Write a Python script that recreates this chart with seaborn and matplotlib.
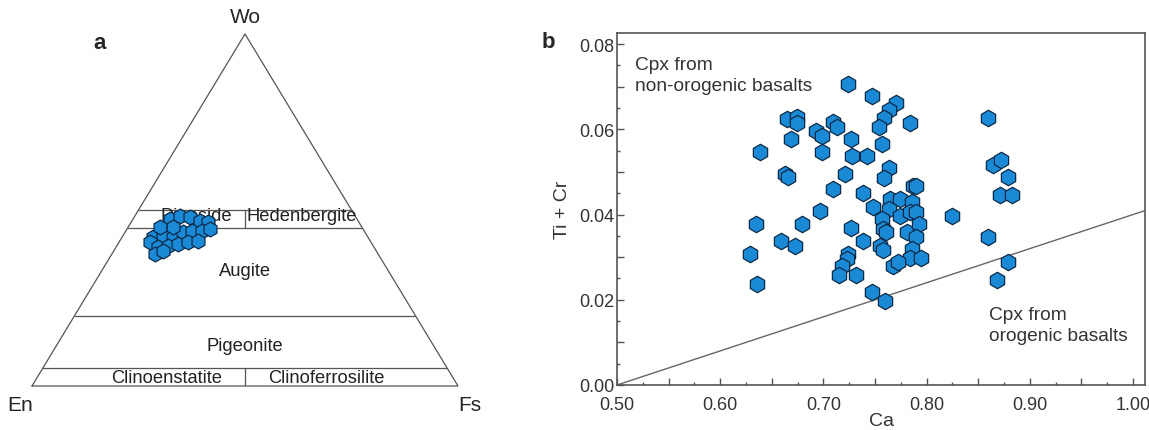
import numpy as np
import pandas as pd
import matplotlib
matplotlib.use("Agg")
import matplotlib.pyplot as plt
import seaborn as sns
from matplotlib.ticker import FixedLocator, FuncFormatter, MultipleLocator

# ---- data -------------------------------------------------------------
# panel a: pyroxene compositions (mol %)
wo = [47.4, 48.3, 48.0, 46.9, 46.6, 42.3, 42.6, 42.3, 43.8, 44.0, 44.0,
      40.9, 39.5, 39.8, 40.3, 40.9, 41.2, 37.5, 38.4, 45.2, 45.2, 44.6]
fs = [8.7, 10.6, 13.1, 16.0, 18.0, 7.3, 9.5, 12.0, 13.5, 15.6, 17.9,
      7.2, 9.9, 12.0, 14.2, 16.2, 18.4, 10.1, 11.6, 10.5, 7.4, 19.5]
en = [43.9, 41.1, 38.9, 37.1, 35.4, 50.4, 47.9, 45.7, 42.7, 40.4, 38.1,
      51.9, 50.6, 48.2, 45.5, 42.9, 40.4, 52.4, 50.0, 44.3, 47.4, 35.9]

# field boundaries (Wo %) and labels
wo_lines = [5, 20, 45, 50]
field_names = ['Diopside', 'Hedenbergite', 'Augite', 'Pigeonite',
               'Clinoenstatite', 'Clinoferrosilite']
field_wo = [48.3, 48.3, 32.7, 11.4, 2.3, 2.3]
field_fs = [14.5, 39.2, 33.7, 44.3, 30.5, 67.9]

# panel b: Ca vs Ti + Cr (apfu)
ca = [0.724, 0.747, 0.770, 0.764, 0.759, 0.754, 0.784, 0.665, 0.674, 0.674,
      0.709, 0.713, 0.693, 0.699, 0.669, 0.727, 0.757, 0.699, 0.639, 0.728,
      0.742, 0.663, 0.666, 0.721, 0.764, 0.759, 0.709, 0.738, 0.787, 0.790,
      0.765, 0.774, 0.786, 0.748, 0.697, 0.764, 0.774, 0.784, 0.790, 0.825,
      0.757, 0.758, 0.761, 0.635, 0.679, 0.727, 0.781, 0.793, 0.790, 0.659,
      0.672, 0.738, 0.755, 0.758, 0.629, 0.724, 0.723, 0.786, 0.784, 0.795,
      0.718, 0.715, 0.732, 0.767, 0.772, 0.636, 0.747, 0.760, 0.859, 0.864,
      0.872, 0.879, 0.871, 0.883, 0.859, 0.879, 0.868]
ti_cr = [0.0707, 0.0678, 0.0662, 0.0646, 0.0627, 0.0606, 0.0615, 0.0624, 0.0629, 0.0615,
         0.0617, 0.0606, 0.0596, 0.0585, 0.0577, 0.0577, 0.0566, 0.0547, 0.0547, 0.0538,
         0.0538, 0.0495, 0.0488, 0.0495, 0.0509, 0.0486, 0.0460, 0.0451, 0.0467, 0.0467,
         0.0437, 0.0437, 0.0430, 0.0418, 0.0408, 0.0413, 0.0397, 0.0406, 0.0406, 0.0397,
         0.0390, 0.0366, 0.0359, 0.0378, 0.0378, 0.0369, 0.0359, 0.0378, 0.0347, 0.0338,
         0.0326, 0.0338, 0.0326, 0.0317, 0.0308, 0.0308, 0.0296, 0.0319, 0.0298, 0.0298,
         0.0279, 0.0258, 0.0258, 0.0279, 0.0289, 0.0237, 0.0218, 0.0197, 0.0627, 0.0516,
         0.0528, 0.0488, 0.0446, 0.0446, 0.0347, 0.0289, 0.0246]

# discriminant line (orogenic / non-orogenic)
line_ca = [0.50, 1.02]
line_ticr = [0.0, 0.0416]

# ---- style ------------------------------------------------------------
sns.set_theme(style='white')
plt.rcParams['font.family'] = ['Liberation Sans', 'DejaVu Sans']
fill_col = '#1b8ad6'
edge_col = '#0c2a48'
grey = '#555555'

fig = plt.figure(figsize=(11.49, 4.31), dpi=100)

# ---- panel a: ternary --------------------------------------------------
ax_a = fig.add_axes([32 / 1149, 44 / 431, 426 / 1149, 352 / 431])
ax_a.set_xlim(0, 1)
ax_a.set_ylim(0, 1)
ax_a.axis('off')

def tern(w, f):
    w = np.asarray(w) / 100.0
    f = np.asarray(f) / 100.0
    return f + w / 2, w

# outline
tx, ty = tern([0, 0, 100, 0], [0, 100, 0, 0])
ax_a.plot(tx, ty, color=grey, lw=0.9, clip_on=False)
for w in wo_lines:
    lx, ly = tern([w, w], [0, 100 - w])
    ax_a.plot(lx, ly, color=grey, lw=0.9)
# En/Fs dividers in the Cpx bands
for w0, w1 in [(0, 5), (45, 50)]:
    dx, dy = tern([w0, w1], [(100 - w0) / 2, (100 - w1) / 2])
    ax_a.plot(dx, dy, color=grey, lw=0.9)

for name, w, f in zip(field_names, field_wo, field_fs):
    px, py = tern(w, f)
    ax_a.text(px, py, name, ha='center', va='center', fontsize=13.2, color='#222222')

ax_a.text(0.5, 1.05, 'Wo', ha='center', va='center', fontsize=15, color='#222222')
ax_a.text(-0.028, -0.052, 'En', ha='center', va='center', fontsize=15, color='#222222')
ax_a.text(1.028, -0.052, 'Fs', ha='center', va='center', fontsize=15, color='#222222')

px, py = tern(wo, fs)
df_a = pd.DataFrame({'x': px, 'y': py, 'En': en})
sns.scatterplot(data=df_a, x='x', y='y', ax=ax_a, marker='h', s=115,
                color=fill_col, edgecolor=edge_col, linewidth=0.9, zorder=3,
                legend=False)
ax_a.set_xlabel('')
ax_a.set_ylabel('')

# ---- panel b: Ca vs Ti+Cr ---------------------------------------------
ax_b = fig.add_axes([617 / 1149, 45 / 431, 528 / 1149, 352 / 431])
df_b = pd.DataFrame({'Ca': ca, 'Ti + Cr': ti_cr})
sns.lineplot(x=line_ca, y=line_ticr, ax=ax_b, color='#666666', lw=1.0)
sns.scatterplot(data=df_b, x='Ca', y='Ti + Cr', ax=ax_b, marker='h', s=140,
                color=fill_col, edgecolor=edge_col, linewidth=0.9, zorder=3,
                legend=False)
ax_b.set_xlim(0.50, 1.0116)
ax_b.set_ylim(0.0, 0.0826)

ax_b.xaxis.set_major_locator(FixedLocator(np.arange(0.50, 1.001, 0.05)))
ax_b.xaxis.set_minor_locator(MultipleLocator(0.025))
ax_b.xaxis.set_major_formatter(FuncFormatter(
    lambda v, p: f'{v:.2f}' if abs(round(v * 10) - v * 10) < 1e-6 else ''))
ax_b.yaxis.set_major_locator(FixedLocator(np.arange(0.0, 0.0801, 0.01)))
ax_b.yaxis.set_minor_locator(MultipleLocator(0.005))
ax_b.yaxis.set_major_formatter(FuncFormatter(
    lambda v, p: f'{v:.2f}' if abs(round(v * 50) - v * 50) < 1e-6 else ''))
ax_b.tick_params(which='both', bottom=True, left=True, top=False, right=False)
ax_b.tick_params(which='major', direction='in', length=5, width=1, color=grey,
                 labelsize=13, labelcolor='#333333')
ax_b.tick_params(which='minor', direction='in', length=2.5, width=1, color=grey)
ax_b.tick_params(axis='x', which='major', pad=8)
ax_b.tick_params(axis='y', which='major', pad=2)
for sp in ax_b.spines.values():
    sp.set_color(grey)
    sp.set_linewidth(1.2)

ax_b.set_xlabel('Ca', fontsize=14, color='#333333', labelpad=-1)
ax_b.set_ylabel('Ti + Cr', fontsize=14, color='#333333', labelpad=6)

ax_b.text(0.035, 0.935, 'Cpx from\nnon-orogenic basalts', transform=ax_b.transAxes,
          ha='left', va='top', fontsize=13.8, color='#333333', linespacing=1.35)
ax_b.text(0.705, 0.225, 'Cpx from\norogenic basalts', transform=ax_b.transAxes,
          ha='left', va='top', fontsize=13.8, color='#333333', linespacing=1.35)

fig.text(100 / 1149, 1 - 44 / 431, 'a', fontsize=16, fontweight='bold',
         ha='center', va='center')
fig.text(548 / 1149, 1 - 42 / 431, 'b', fontsize=16, fontweight='bold',
         ha='center', va='center')

fig.savefig('out.png', dpi=100, facecolor='white')
